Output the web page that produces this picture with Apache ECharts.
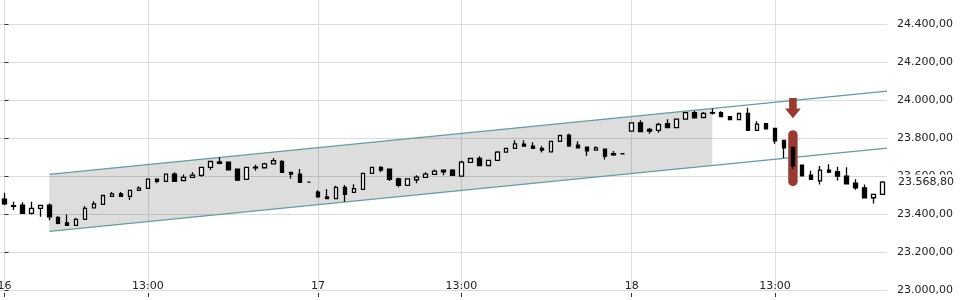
<!DOCTYPE html>
<html><head><meta charset="utf-8">
<script src="https://cdn.jsdelivr.net/npm/echarts@6/dist/echarts.min.js"></script>
<style>html,body{margin:0;padding:0;background:#fff}#c{width:960px;height:300px}</style>
</head><body><div id="c"></div>
<script>
// ---- data ----
const xLabelIdx = [0, 16, 35, 51, 70, 86];
const xLabels = ['16', '13:00', '17', '13:00', '18', '13:00'];
const opens = [23479,23445,23447,23404,23430,23447,23383,23354,23341,23372,23433,23451,23493,23507,23493,23525,23535,23584,23572,23611,23577,23593,23604,23646,23675,23674,23637,23583,23647,23644,23665,23677,23620,23611,23568,
23516,23490,23481,23541,23514,23530,23614,23646,23637,23586,23551,23581,23593,23609,23632,23632,23600,23672,23693,23656,23683,23726,23746,23768,23758,23746,23728,23783,23816,23763,23753,23737,23742,23719,23718,
23837,23881,23846,23841,23877,23856,23900,23935,23909,23932,23935,23914,23898,23930,23841,23877,23851,23788,23751,23658,23605,23575,23632,23623,23600,23563,23538,23486,23504];
const closes = [23454,23441,23404,23430,23446,23386,23351,23341,23372,23430,23453,23498,23507,23493,23525,23537,23584,23572,23611,23572,23593,23605,23646,23677,23667,23633,23579,23646,23644,23665,23681,23620,23611,23567,23568,
23491,23481,23541,23504,23534,23614,23646,23632,23583,23551,23586,23595,23611,23626,23623,23604,23674,23693,23656,23683,23726,23746,23770,23758,23746,23737,23783,23814,23760,23749,23733,23749,23705,23712,23718,
23881,23835,23837,23872,23856,23900,23935,23907,23930,23935,23914,23898,23930,23841,23874,23849,23786,23749,23654,23602,23583,23632,23621,23600,23559,23538,23486,23504,23568.8];
const lows = [23447,23421,23402,23398,23386,23368,23346,23339,23339,23370,23430,23449,23491,23491,23474,23523,23533,23563,23570,23570,23575,23591,23596,23632,23662,23631,23574,23581,23628,23641,23663,23618,23586,23565,23567,
23486,23479,23479,23465,23512,23528,23612,23620,23574,23541,23549,23562,23591,23607,23604,23602,23598,23670,23654,23654,23681,23724,23744,23756,23744,23725,23726,23781,23754,23747,23707,23735,23688,23707,23717,
23835,23833,23823,23828,23854,23854,23898,23905,23907,23925,23912,23896,23896,23839,23839,23847,23770,23696,23637,23600,23581,23556,23616,23577,23557,23528,23483,23456,23502];
const highs = [23512,23465,23462,23465,23448,23456,23389,23398,23381,23442,23468,23500,23517,23517,23527,23547,23586,23586,23613,23621,23609,23620,23648,23679,23700,23676,23639,23648,23660,23670,23696,23684,23622,23637,23569,
23525,23532,23549,23553,23557,23616,23648,23653,23639,23591,23588,23604,23621,23635,23634,23638,23681,23695,23705,23685,23733,23748,23789,23789,23779,23758,23785,23816,23823,23784,23755,23758,23744,23732,23719,
23883,23895,23854,23881,23900,23904,23937,23944,23938,23956,23942,23917,23932,23960,23889,23879,23853,23790,23753,23660,23628,23653,23662,23649,23647,23584,23556,23506,23574];
const channelX = [5, 98.5];
const channelUpper = [23609, 24048];
const channelLower = [23309, 23748];
const channelFillX = [5, 79];
const lastPrice = 23568.8;
const signalIdx = 88;
const signalBar = [23547, 23842];
const signalArrow = [24012, 23905];

// ---- helpers ----
function fmt(v) {
  const s = Number(v).toFixed(2);
  let [i, d] = s.split('.');
  i = i.replace(/\B(?=(\d{3})+(?!\d))/g, '.');
  return i + ',' + d;
}
function chanAt(arr, x) {
  return arr[0] + (arr[1] - arr[0]) * (x - channelX[0]) / (channelX[1] - channelX[0]);
}
const FONT = 'DejaVu Sans';
const RED = '#983a31';
const TEAL = '#5f9ea0';
const N = opens.length;
const categories = opens.map((_, i) => String(i));
const candleData = opens.map((o, i) => [o, closes[i], lows[i], highs[i]]);

const chart = echarts.init(document.getElementById('c'), null, { renderer: 'canvas' });
chart.setOption({
  animation: false,
  grid: { left: 0, right: 73, top: 0, bottom: 10, containLabel: false, outerBoundsMode: 'none' },
  xAxis: [
    {
      type: 'category', data: categories, boundaryGap: true, show: true,
      axisLine: { show: false }, axisTick: { show: false }, axisLabel: { show: false }, splitLine: { show: false }
    },
    {
      type: 'value', min: -0.5, max: N - 0.5, offset: 3, position: 'bottom',
      axisLine: { show: false },
      axisTick: { show: true, length: 4, customValues: xLabelIdx, lineStyle: { color: '#333' } },
      axisLabel: {
        inside: true, margin: 1, customValues: xLabelIdx,
        formatter: v => xLabels[xLabelIdx.indexOf(v)],
        color: '#222', fontFamily: FONT, fontSize: 11
      },
      splitLine: { show: true, lineStyle: { color: '#dcdcdc', width: 1 } }
    }
  ],
  yAxis: {
    type: 'value', position: 'right', min: 23000, max: 24528, interval: 200, offset: 5,
    axisLine: { show: false },
    axisTick: { show: true, length: 4, lineStyle: { color: '#333' } },
    axisLabel: { margin: 5, showMaxLabel: false, formatter: v => (v % 200 === 0 ? fmt(v) : ''), color: '#222', fontFamily: FONT, fontSize: 11 },
    splitLine: { show: true, showMaxLine: false, lineStyle: { color: '#dcdcdc', width: 1 } }
  },
  series: [
    {
      type: 'custom', z: 1, silent: true, xAxisIndex: 1,
      data: [[channelFillX[0], channelLower[0]]],
      renderItem: (params, api) => {
        const x0 = channelFillX[0], x1 = channelFillX[1];
        const pts = [[x0, chanAt(channelUpper, x0)], [x1, chanAt(channelUpper, x1)],
                     [x1, chanAt(channelLower, x1)], [x0, chanAt(channelLower, x0)]].map(p => api.coord(p));
        return { type: 'polygon', shape: { points: pts }, style: { fill: 'rgba(0,0,0,0.135)' } };
      }
    },
    {
      type: 'line', z: 2, silent: true, symbol: 'none', xAxisIndex: 1,
      data: channelX.map((x, i) => [x, channelUpper[i]]),
      lineStyle: { color: TEAL, width: 1.2 }
    },
    {
      type: 'line', z: 2, silent: true, symbol: 'none', xAxisIndex: 1,
      data: channelX.map((x, i) => [x, channelLower[i]]),
      lineStyle: { color: TEAL, width: 1.2 }
    },
    {
      type: 'custom', z: 3, silent: true, xAxisIndex: 1,
      data: [[signalIdx, signalBar[0], signalBar[1], signalArrow[0], signalArrow[1]]],
      renderItem: (params, api) => {
        const x = api.value(0);
        const b0 = api.coord([x, api.value(2)]);
        const b1 = api.coord([x, api.value(1)]);
        const a0 = api.coord([x, api.value(3)]);
        const a1 = api.coord([x, api.value(4)]);
        const cx = b0[0];
        const w = 9.4;
        const mid = a0[1] + (a1[1] - a0[1]) * 0.52;
        return {
          type: 'group', children: [
            { type: 'rect', shape: { x: cx - w / 2, y: b0[1], width: w, height: b1[1] - b0[1], r: w / 2 }, style: { fill: RED } },
            { type: 'polygon', shape: { points: [[cx - 3.8, a0[1]], [cx + 3.8, a0[1]], [cx + 3.8, mid], [cx + 7.9, mid], [cx, a1[1]], [cx - 7.9, mid], [cx - 3.8, mid]] }, style: { fill: RED } }
          ]
        };
      }
    },
    {
      type: 'candlestick', z: 4, xAxisIndex: 0,
      data: candleData,
      barWidth: 4,
      itemStyle: { color: '#ffffff', color0: '#000000', borderColor: '#000000', borderColor0: '#000000', borderWidth: 1.3 },
      markLine: {
        silent: true, symbol: ['none', 'none'],
        lineStyle: { color: 'rgba(0,0,0,0)', width: 1 },
        data: [{ yAxis: lastPrice }],
        label: {
          show: true, position: 'end', distance: 9,
          formatter: () => fmt(lastPrice),
          color: '#222', fontFamily: FONT, fontSize: 11,
          backgroundColor: '#ffffff', padding: [2, 3, 2, 2]
        }
      }
    }
  ]
});
</script>
</body></html>
